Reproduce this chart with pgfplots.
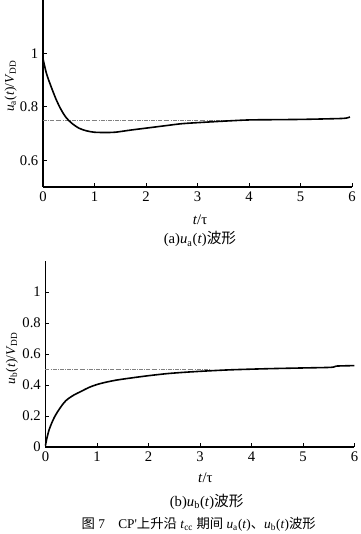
\documentclass[border=0pt]{standalone}
\usepackage{fontspec}
\setmainfont{Liberation Serif}
\newfontfamily\cjk{Noto Sans CJK SC}
\usepackage{pgfplots}
\pgfplotsset{compat=1.18}
\begin{document}
\begin{tikzpicture}
\path[use as bounding box] (0pt,0pt) rectangle (270pt,400.5pt);
\pgfplotsset{
  mystyle/.style={
    scale only axis,
    width=231.75pt,
    axis lines*=left,
    axis line style={-, line width=0.9pt},
    tick align=inside,
    major tick length=3pt,
    tick style={black, line width=0.7pt},
    xmin=0, xmax=6,
    xtick={0,1,2,3,4,5,6},
    ymax=1.2,
    tick label style={font=\fontsize{11}{13}\selectfont},
    /pgf/number format/assume math mode=true,
    clip=false,
  }
}
% top axis
\begin{axis}[mystyle,
  at={(32.25pt,260.25pt)}, anchor=origin,
  height=140.25pt,
  ymin=0.5,
  ytick={0.6,0.8,1},
  yticklabels={0.6,0.8,1},
]
\addplot[gray, line width=0.4pt, densely dashdotted] coordinates {(0,0.75) (4,0.75)};
\addplot[black, line width=1.2pt, smooth] coordinates {
(0,0.98) (0.06,0.93) (0.12,0.895) (0.25,0.83) (0.35,0.79) (0.44,0.762) (0.55,0.74) (0.7,0.72) (0.85,0.71) (1.0,0.705) (1.2,0.704) (1.4,0.705) (1.7,0.713) (2.07,0.722) (2.4,0.73) (2.7,0.737) (3.1,0.742) (3.56,0.747) (4.0,0.751) (4.5,0.752) (5.0,0.753) (5.5,0.755) (5.85,0.757) (5.96,0.762)};
\end{axis}
% bottom axis
\begin{axis}[mystyle,
  at={(34.1pt,65.25pt)}, anchor=origin,
  height=139.5pt,
  ymin=0,
  ytick={0,0.2,0.4,0.6,0.8,1},
  yticklabels={0,0.2,0.4,0.6,0.8,1},
]
\addplot[gray, line width=0.4pt, densely dashdotted] coordinates {(0,0.5) (3.2,0.5)};
\addplot[black, line width=1.2pt, smooth] coordinates {
(0,0.01) (0.03,0.06) (0.08,0.12) (0.17,0.19) (0.28,0.25) (0.4,0.30) (0.55,0.335) (0.7,0.36) (0.85,0.385) (1.05,0.408) (1.35,0.43) (1.7,0.447) (2.0,0.46) (2.35,0.473) (2.7,0.482) (3.1,0.49) (3.6,0.498) (4.3,0.505) (5.0,0.51) (5.55,0.514) (5.65,0.522) (6.0,0.525)};
\end{axis}
% axis titles
\node[rotate=90, font=\fontsize{10}{12}\selectfont] at (8pt,336pt) {\textit{u}\textsubscript{a}(\textit{t})/\textit{V}\textsubscript{DD}};
\node[rotate=90, font=\fontsize{10}{12}\selectfont] at (9pt,132pt) {\textit{u}\textsubscript{b}(\textit{t})/\textit{V}\textsubscript{DD}};
\node[font=\fontsize{11}{13}\selectfont] at (150pt,235.5pt) {\textit{t}/τ};
\node[font=\fontsize{11}{13}\selectfont] at (150pt,221pt) {(a)\textit{u}\textsubscript{a}(\textit{t}){\cjk 波形}};
\node[font=\fontsize{11}{13}\selectfont] at (154pt,42pt) {\textit{t}/τ};
\node[font=\fontsize{11}{13}\selectfont] at (155pt,24pt) {(b)\textit{u}\textsubscript{b}(\textit{t}){\cjk 波形}};
\node[font=\fontsize{10}{12}\selectfont] at (149pt,7pt) {{\cjk 图}~7\quad CP\textquotesingle{\cjk 上升沿}~\textit{t}\textsubscript{cc}~{\cjk 期间}~\textit{u}\textsubscript{a}(\textit{t}){\cjk 、}\textit{u}\textsubscript{b}(\textit{t}){\cjk 波形}};
\end{tikzpicture}
\end{document}
